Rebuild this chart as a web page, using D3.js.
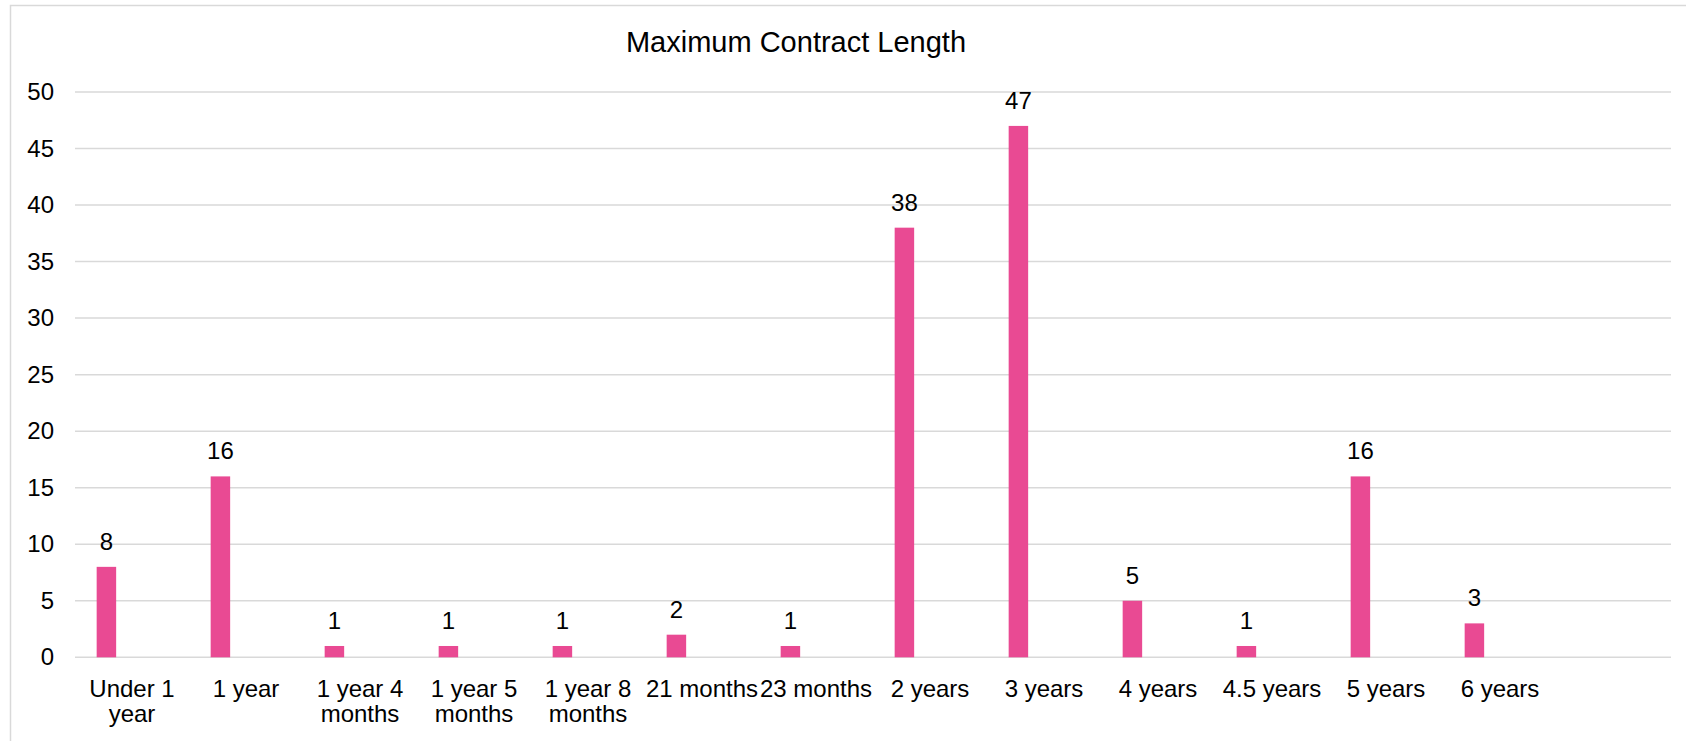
<!DOCTYPE html>
<html>
<head>
<meta charset="utf-8">
<script src="https://cdn.jsdelivr.net/npm/d3@7"></script>
<style>
  html, body { margin: 0; padding: 0; background: #fff; }
  svg { display: block; }
  text { font-family: "Liberation Sans", Arial, sans-serif; fill: #000; }
</style>
</head>
<body>
<svg id="chart" width="1686" height="741"></svg>
<script>
// Contract length categories (the last slot is an empty category)
const categories = ["Under 1 year", "1 year", "1 year 4 months", "1 year 5 months",
  "1 year 8 months", "21 months", "23 months", "2 years", "3 years", "4 years",
  "4.5 years", "5 years", "6 years", ""];
// Number of contracts per category
const counts = [8, 16, 1, 1, 1, 2, 1, 38, 47, 5, 1, 16, 3, null];
const yTicks = [0, 5, 10, 15, 20, 25, 30, 35, 40, 45, 50];
const title = "Maximum Contract Length";

const svg = d3.select("#chart");
const W = 1686, H = 741;
const plot = { left: 75, right: 1671, top: 92, bottom: 657.3 };

// Chart border (top and left edges visible)
svg.append("path")
  .attr("d", `M10.5,${H + 2} V5.5 H${W + 2}`)
  .attr("fill", "none")
  .attr("stroke", "#d9d9d9")
  .attr("stroke-width", 1.5);

const x = d3.scaleBand()
  .domain(d3.range(categories.length))
  .range([plot.left, plot.right])
  .paddingInner(0).paddingOuter(0);

const y = d3.scaleLinear()
  .domain([0, 50])
  .range([plot.bottom, plot.top]);

// Bars sit left of the category centre, like the first of a clustered group
const barOffset = 0.19, barWidth = 0.171;

// Gridlines
svg.append("g")
  .selectAll("line")
  .data(yTicks)
  .join("line")
  .attr("x1", plot.left).attr("x2", plot.right)
  .attr("y1", d => y(d)).attr("y2", d => y(d))
  .attr("stroke", "#d9d9d9")
  .attr("stroke-width", 1.5);

// Y axis labels
const yAxis = d3.axisLeft(y).tickValues(yTicks).tickSize(0).tickPadding(0);
const gy = svg.append("g").attr("transform", "translate(54,0)").call(yAxis);
gy.select(".domain").remove();
gy.selectAll("text")
  .attr("font-size", 24)
  .attr("font-family", "Liberation Sans, Arial, sans-serif")
  .attr("fill", "#000");

// Bars
const data = categories.map((c, i) => ({ i, c, v: counts[i] })).filter(d => d.v != null);
svg.append("g")
  .selectAll("rect")
  .data(data)
  .join("rect")
  .attr("x", d => x(d.i) + x.bandwidth() * barOffset)
  .attr("width", x.bandwidth() * barWidth)
  .attr("y", d => y(d.v))
  .attr("height", d => y(0) - y(d.v))
  .attr("fill", "#E94A93");

// Value labels
svg.append("g")
  .selectAll("text")
  .data(data)
  .join("text")
  .attr("x", d => x(d.i) + x.bandwidth() * (barOffset + barWidth / 2))
  .attr("y", d => y(d.v) - 17)
  .attr("text-anchor", "middle")
  .attr("font-size", 24)
  .text(d => d.v);

// Category labels, wrapped to the band width
const measure = svg.append("text").attr("font-size", 24).attr("visibility", "hidden");
function wrap(label, maxW) {
  const words = label.split(" ");
  const lines = [];
  let cur = "";
  for (const w of words) {
    const trial = cur ? cur + " " + w : w;
    measure.text(trial);
    if (cur && measure.node().getComputedTextLength() > maxW) {
      lines.push(cur);
      cur = w;
    } else {
      cur = trial;
    }
  }
  if (cur) lines.push(cur);
  return lines;
}
const xl = svg.append("g");
categories.forEach((c, i) => {
  if (!c) return;
  const lines = wrap(c, x.bandwidth());
  const t = xl.append("text")
    .attr("x", x(i) + x.bandwidth() / 2)
    .attr("y", 696.5)
    .attr("text-anchor", "middle")
    .attr("font-size", 24);
  lines.forEach((ln, k) => {
    t.append("tspan")
      .attr("x", x(i) + x.bandwidth() / 2)
      .attr("dy", k === 0 ? 0 : 25)
      .text(ln);
  });
});
measure.remove();

// Title
svg.append("text")
  .attr("x", 796)
  .attr("y", 52)
  .attr("text-anchor", "middle")
  .attr("font-size", 29)
  .text(title);
</script>
</body>
</html>
